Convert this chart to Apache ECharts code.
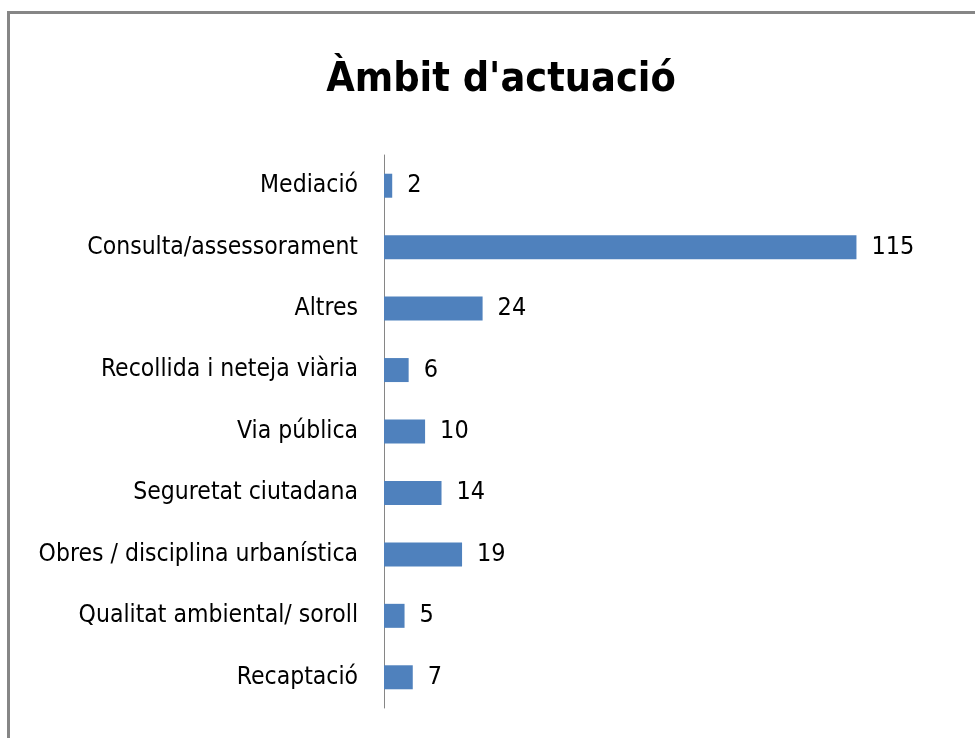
<!DOCTYPE html>
<html>
<head>
<meta charset="utf-8">
<script src="https://cdn.jsdelivr.net/npm/echarts@6/dist/echarts.min.js"></script>
<style>html,body{margin:0;padding:0;background:#fff}#c{width:975px;height:738px}</style>
</head>
<body>
<div id="c"></div>
<script>
const titleText = "Àmbit d'actuació";
const categories = ["Mediació","Consulta/assessorament","Altres","Recollida i neteja viària","Via pública","Seguretat ciutadana","Obres / disciplina urbanística","Qualitat ambiental/ soroll","Recaptació"];
const values = [2,115,24,6,10,14,19,5,7];

const FONT = "'DejaVu Sans Condensed','DejaVu Sans',sans-serif";
const chart = echarts.init(document.getElementById('c'), null, {renderer:'canvas'});
chart.setOption({
  animation:false,
  backgroundColor:'#fff',
  title:{text:titleText,left:496,top:55,textAlign:'center',
    textStyle:{fontFamily:FONT,fontSize:41,fontWeight:'bold',color:'#000'}},
  graphic:[{type:'rect',shape:{x:8.5,y:12.5,width:1100,height:900},
    style:{fill:'none',stroke:'#868686',lineWidth:3},silent:true}],
  grid:{left:384,top:155,right:98,height:553,containLabel:false},
  xAxis:{type:'value',min:0,max:120,show:false},
  yAxis:{type:'category',data:categories,inverse:true,
    axisLine:{show:true,lineStyle:{color:'#868686',width:1}},
    axisTick:{show:false},
    axisLabel:{margin:26,color:'#000',fontFamily:FONT,fontSize:24.5}},
  series:[{type:'bar',data:values,barWidth:24,
    itemStyle:{color:'#4F81BD'},
    label:{show:true,position:'right',distance:15,color:'#000',fontFamily:FONT,fontSize:25}}]
});
</script>
</body>
</html>
